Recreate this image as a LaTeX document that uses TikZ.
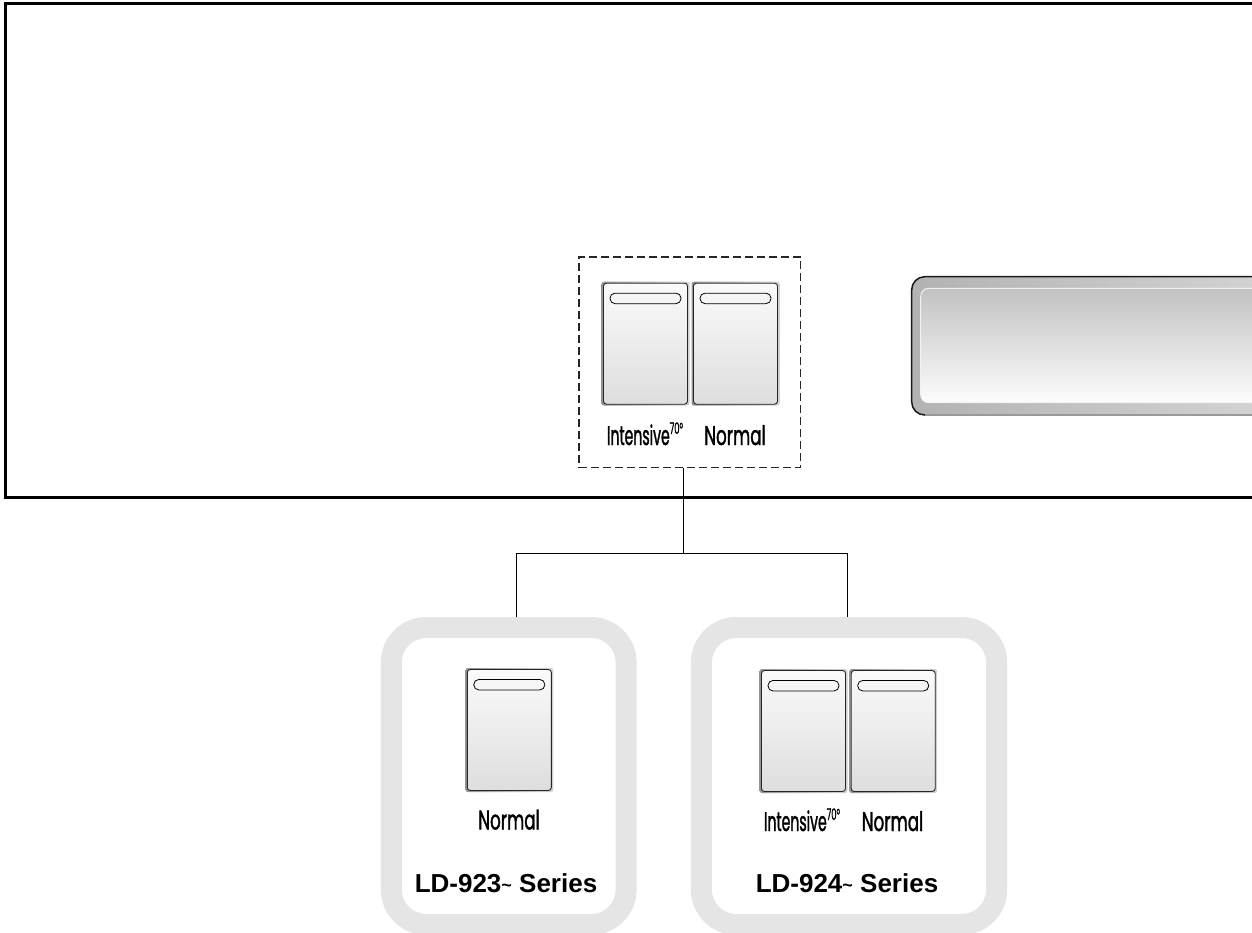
\documentclass[tikz,border=0pt]{standalone}
\usepackage{fontspec}
\newfontfamily\lblfam[FakeStretch=0.62,FakeBold=1.3]{Poppins}
\newfontfamily\srsfam{Liberation Sans}
\newcommand\lblfont{\lblfam\fontsize{27}{30}\selectfont}
\newcommand\srsfont{\srsfam\bfseries\fontsize{26}{30}\selectfont}
\newcommand\intlabel{\scalebox{0.84}[1]{Intensive\raisebox{11pt}{\fontsize{16}{16}\selectfont 70°}}}
\newcommand\smtilde{{\fontsize{18}{18}\selectfont\raisebox{1.5pt}{\textasciitilde}}}
\tikzset{
  shadowbox/.style={left color=black!42, right color=black!18, rounded corners=2.5pt,
    minimum width=88pt, minimum height=124pt, inner sep=0pt, draw=none},
  btnface/.style={draw=black!85, line width=0.9pt, rounded corners=3pt,
    top color=black!2, bottom color=black!13, minimum width=84pt, minimum height=121pt, inner sep=0pt},
  slotbar/.style={draw=black, line width=0.8pt, rounded corners=5pt, fill=black!4,
    minimum width=71pt, minimum height=10.5pt, inner sep=0pt, anchor=north},
  lbl/.style={font=\lblfont, anchor=base, inner sep=0pt},
  series/.style={font=\srsfont, anchor=base, inner sep=0pt},
  ring/.style={draw=black!10, line width=21pt, rounded corners=35pt, inner sep=0pt, fill=white},
  dashbox/.style={draw=black!85, line width=1.2pt, dash pattern=on 8pt off 4pt, inner sep=0pt},
  wire/.style={draw=black, line width=1pt},
  panel/.style={draw=black, line width=2.3pt},
}
\newcommand\pushbtn[2]{%
  \node[shadowbox] (#1sh) at (#2) {};
  \node[btnface] (#1) at (#2) {};
  \node[slotbar] (#1s) at ([yshift=-10pt]#1.north) {};
}
\begin{document}
\begin{tikzpicture}[x=1pt,y=-1pt]
\clip (0,0) rectangle (1252,933);
\fill[white] (0,0) rectangle (1252,933);

% main panel (open to the right)
\draw[panel] (1260,3.5) -- (5.5,3.5) -- (5.5,497.5) -- (1260,497.5);

% display window
\shade[left color=black!30, right color=black!16, rounded corners=13pt]
  (911.7,276.7) rectangle (1300,415);
\draw[black!90, line width=1.5pt, rounded corners=13pt]
  (1300,276.7) -- (911.7,276.7) -- (911.7,415) -- (940,415);
\draw[black!40, line width=1.4pt] (925,415) -- (1300,415);
\shadedraw[top color=black!24, bottom color=black!1, draw=black!5, line width=1pt, rounded corners=8pt]
  (920.7,288.3) rectangle (1300,402.7);

% dashed group on the panel
\node[dashbox, minimum width=221.6pt, minimum height=210.5pt] (grp) at (689.8,362.3) {};
\pushbtn{ta}{645.5,343.7}
\pushbtn{tb}{735.5,343.7}
\node[lbl] (tal) at (645,445) {\intlabel};
\node[lbl] (tbl) at (735,445) {Normal};

% series boxes
\node[ring, minimum width=234.8pt, minimum height=297pt] (s923) at (508.7,776) {};
\node[ring, minimum width=295.3pt, minimum height=297pt] (s924) at (849,776) {};

\pushbtn{la}{509.3,730}
\node[lbl] (lal) at (509,829.5) {Normal};
\node[series] (s923t) at (506,892.7) {LD-923\smtilde{} Series};

\pushbtn{ra}{803.5,731}
\pushbtn{rb}{893.2,731}
\node[lbl] (ral) at (802,831) {\intlabel};
\node[lbl] (rbl) at (892.5,831) {Normal};
\node[series] (s924t) at (847,892.7) {LD-924\smtilde{} Series};

% connectors
\coordinate (jn) at (683,553.3);
\draw[wire] (grp.south -| jn) -- (jn);
\draw[wire] ([xshift=8pt]s923.north) |- (jn) -| ([xshift=-1.7pt]s924.north);
\end{tikzpicture}
\end{document}
